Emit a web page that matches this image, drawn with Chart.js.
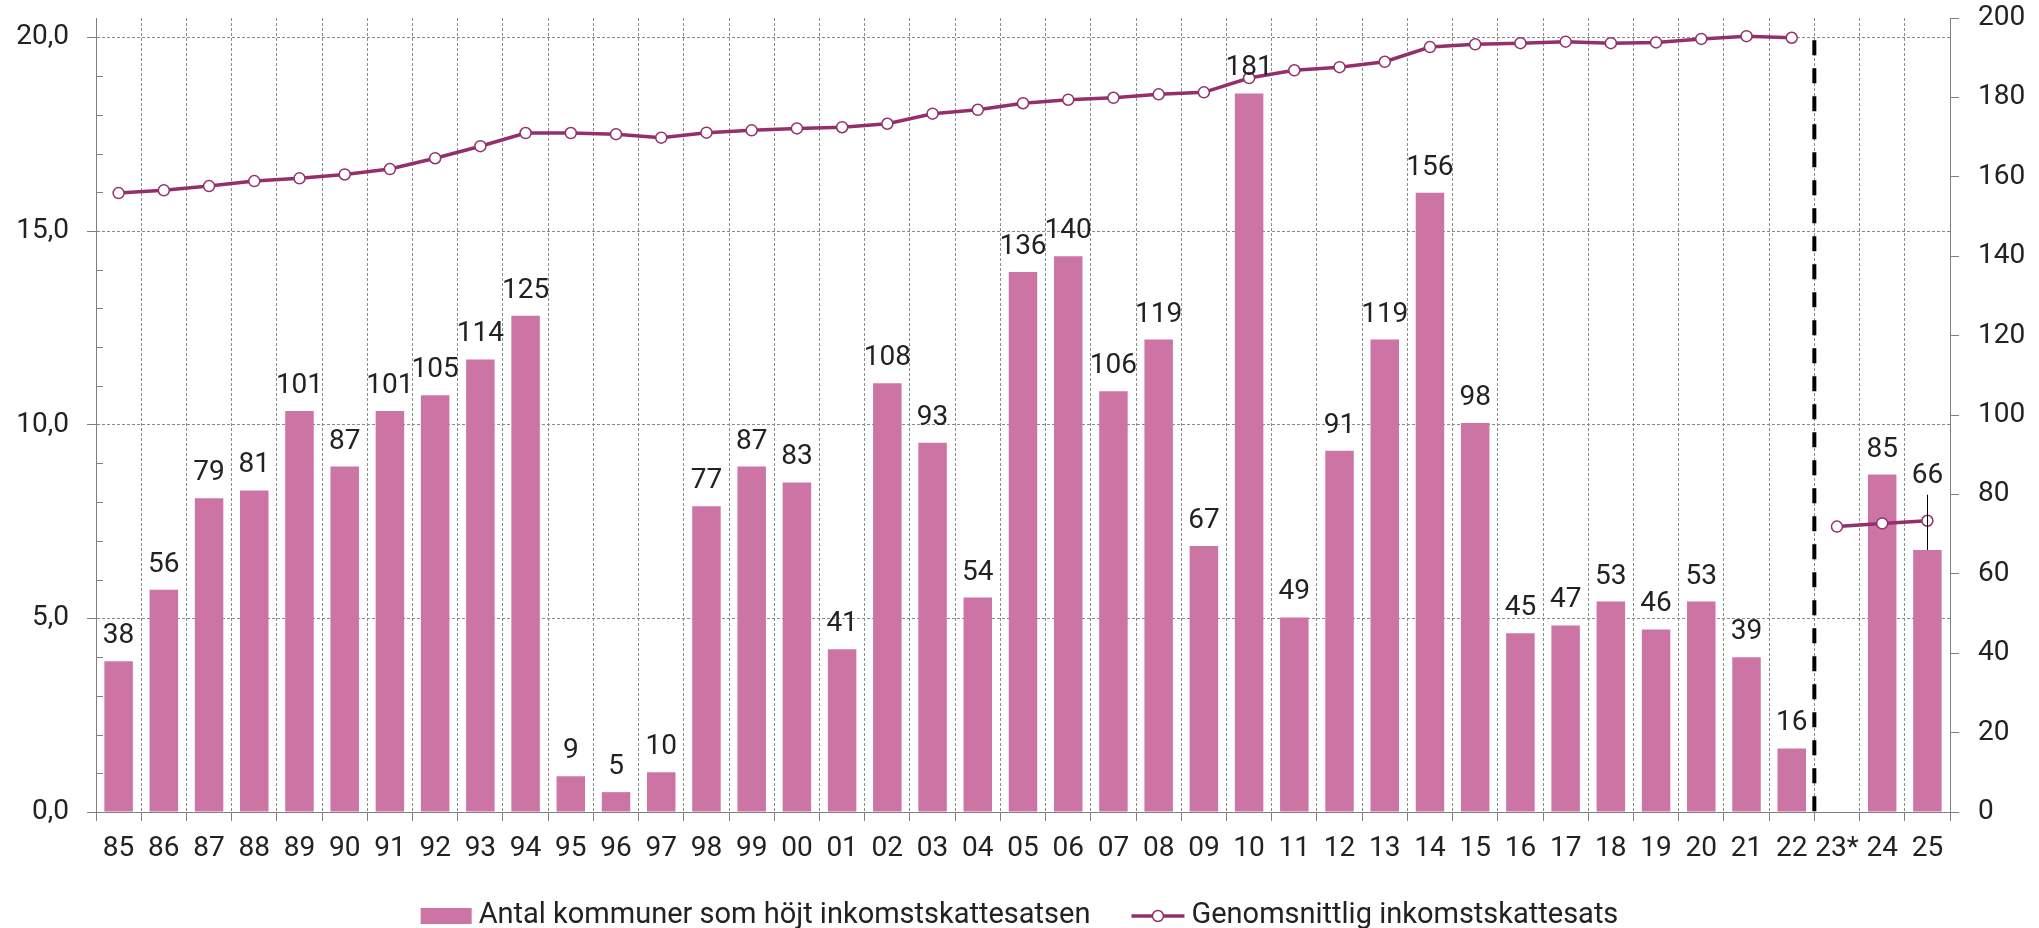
<!DOCTYPE html>
<html>
<head>
<meta charset="utf-8">
<script src="https://cdn.jsdelivr.net/npm/chart.js@4.4.1/dist/chart.umd.min.js"></script>
<style>
  html, body { margin: 0; padding: 0; background: #fff; }
  #wrap { width: 2039px; height: 928px; }
</style>
</head>
<body>
<div id="wrap"><canvas id="chart"></canvas></div>
<script>
const years = ['85', '86', '87', '88', '89', '90', '91', '92', '93', '94',
  '95', '96', '97', '98', '99', '00', '01', '02', '03', '04',
  '05', '06', '07', '08', '09', '10', '11', '12', '13', '14',
  '15', '16', '17', '18', '19', '20', '21', '22', '23*', '24', '25'];

// Antal kommuner som höjt inkomstskattesatsen (right axis)
const raisedCount = [38, 56, 79, 81, 101, 87, 101, 105, 114, 125,
  9, 5, 10, 77, 87, 83, 41, 108, 93, 54,
  136, 140, 106, 119, 67, 181, 49, 91, 119, 156,
  98, 45, 47, 53, 46, 53, 39, 16, null, 85, 66];

// Genomsnittlig inkomstskattesats (left axis)
const avgRate = [15.98, 16.05, 16.16, 16.29, 16.36, 16.46, 16.60, 16.88, 17.19, 17.53,
  17.53, 17.50, 17.41, 17.54, 17.60, 17.65, 17.68, 17.77, 18.03, 18.13,
  18.30, 18.39, 18.44, 18.53, 18.58, 18.95, 19.15, 19.23, 19.37, 19.75,
  19.82, 19.85, 19.89, 19.85, 19.87, 19.96, 20.03, 19.99, 7.37, 7.45, 7.52];

const rateTicks = [0, 5, 10, 15, 20];
const countTicks = [0, 20, 40, 60, 80, 100, 120, 140, 160, 180, 200];
const breakAfter = '22'; // dashed separator + gap in the line

const barColor = '#cc74a4';
const lineColor = '#93306b';
const gridColor = '#8a8a8a';
const axisColor = '#808080';
const textColor = '#222222';

Chart.defaults.font.family = 'Roboto, sans-serif';
Chart.defaults.color = textColor;

// fixed axis boxes, no automatic label padding
const fixBox = size => s => {
  if (s.isHorizontal()) s.height = size; else s.width = size;
  s.paddingTop = s.paddingBottom = s.paddingLeft = s.paddingRight = 0;
};

// minor ticks, separator, bar labels and the legend
const extras = {
  id: 'extras',
  afterDatasetsDraw(chart) {
    const { ctx, chartArea, scales: { x, y } } = chart;
    ctx.save();

    ctx.strokeStyle = axisColor;
    ctx.lineWidth = 1;
    for (let v = 1; v < 20; v++) {
      if (v % 5 === 0) continue;
      const py = Math.round(y.getPixelForValue(v)) + 0.5;
      ctx.beginPath();
      ctx.moveTo(chartArea.left, py);
      ctx.lineTo(chartArea.left + 7, py);
      ctx.stroke();
    }

    const i = years.indexOf(breakAfter);
    const sx = (x.getPixelForValue(i) + x.getPixelForValue(i + 1)) / 2;
    ctx.strokeStyle = '#000';
    ctx.lineWidth = 4;
    ctx.setLineDash([15, 13]);
    ctx.beginPath();
    ctx.moveTo(sx, y.getPixelForValue(20) + 3);
    ctx.lineTo(sx, chartArea.bottom);
    ctx.stroke();
    ctx.setLineDash([]);

    const bars = chart.getDatasetMeta(0).data;
    const points = chart.getDatasetMeta(1).data;
    ctx.font = '28px Roboto, sans-serif';
    ctx.fillStyle = textColor;
    ctx.textAlign = 'center';
    ctx.textBaseline = 'alphabetic';
    bars.forEach((bar, k) => {
      const v = raisedCount[k];
      if (v == null) return;
      let base = bar.y - 18;
      const py = points[k].y;
      if (py < base && py > base - 26) {
        base = py - 38;
        ctx.strokeStyle = '#000';
        ctx.lineWidth = 1;
        ctx.beginPath();
        ctx.moveTo(Math.round(bar.x) + 0.5, base + 12);
        ctx.lineTo(Math.round(bar.x) + 0.5, bar.y);
        ctx.stroke();
      }
      ctx.fillText(String(v), bar.x, base);
    });
    ctx.restore();
  },
  afterDraw(chart) {
    const { ctx, width } = chart;
    const ds = chart.data.datasets;
    const ly = 916;
    ctx.save();
    ctx.font = '29px Roboto, sans-serif';
    const w1 = ctx.measureText(ds[0].label).width;
    const w2 = ctx.measureText(ds[1].label).width;
    const total = 51 + 7 + w1 + 41 + 53 + 7 + w2;
    let lx = (width - total) / 2;

    ctx.fillStyle = barColor;
    ctx.fillRect(lx, ly - 8, 51, 16);
    lx += 58;
    ctx.fillStyle = textColor;
    ctx.textBaseline = 'middle';
    ctx.textAlign = 'left';
    ctx.fillText(ds[0].label, lx, ly);
    lx += w1 + 41;

    ctx.strokeStyle = lineColor;
    ctx.lineWidth = 3.5;
    ctx.beginPath();
    ctx.moveTo(lx, ly);
    ctx.lineTo(lx + 53, ly);
    ctx.stroke();
    ctx.fillStyle = '#fff';
    ctx.lineWidth = 1.5;
    ctx.beginPath();
    ctx.arc(lx + 26.5, ly, 5.5, 0, Math.PI * 2);
    ctx.fill();
    ctx.stroke();
    lx += 60;
    ctx.fillStyle = textColor;
    ctx.fillText(ds[1].label, lx, ly);
    ctx.restore();
  }
};

new Chart(document.getElementById('chart'), {
  type: 'bar',
  data: {
    labels: years,
    datasets: [{
      type: 'bar',
      label: 'Antal kommuner som höjt inkomstskattesatsen',
      data: raisedCount,
      yAxisID: 'y1',
      backgroundColor: barColor,
      categoryPercentage: 1,
      barPercentage: 0.63,
      order: 1,
    }, {
      type: 'line',
      label: 'Genomsnittlig inkomstskattesats',
      data: avgRate,
      yAxisID: 'y',
      borderColor: lineColor,
      borderWidth: 3.5,
      pointRadius: 5.5,
      pointBorderWidth: 1.5,
      pointBackgroundColor: '#fff',
      pointBorderColor: lineColor,
      tension: 0,
      order: 0,
      segment: {
        borderColor: c => years[c.p0DataIndex] === breakAfter ? 'transparent' : lineColor,
      },
    }],
  },
  options: {
    responsive: true,
    maintainAspectRatio: false,
    animation: false,
    layout: { autoPadding: false, padding: { left: 0, right: 0, top: 18, bottom: 58 } },
    scales: {
      x: {
        afterFit: fixBox(58),
        grid: {
          color: gridColor,
          lineWidth: 1,
          tickLength: 9,
          tickColor: axisColor,
          tickBorderDash: [],
        },
        border: { color: axisColor, dash: [3, 2] },
        ticks: { font: { size: 28 }, padding: 11, maxRotation: 0, autoSkip: false },
      },
      y: {
        position: 'left',
        min: 0,
        max: 20.5,
        afterBuildTicks: s => { s.ticks = rateTicks.map(v => ({ value: v })); },
        afterFit: fixBox(96),
        grid: {
          color: gridColor,
          tickLength: 9,
          tickColor: axisColor,
          tickBorderDash: [],
        },
        border: { color: axisColor, dash: [3, 2] },
        ticks: {
          font: { size: 28 },
          padding: 18,
          callback: v => v.toFixed(1).replace('.', ','),
        },
      },
      y1: {
        position: 'right',
        min: 0,
        max: 200,
        afterBuildTicks: s => { s.ticks = countTicks.map(v => ({ value: v })); },
        afterFit: fixBox(89),
        grid: {
          drawOnChartArea: false,
          tickLength: 9,
          tickColor: axisColor,
        },
        border: { color: axisColor },
        ticks: { font: { size: 28 }, padding: 19 },
      },
    },
    plugins: {
      tooltip: { enabled: false },
      legend: { display: false },
    },
  },
  plugins: [extras],
});
</script>
</body>
</html>
